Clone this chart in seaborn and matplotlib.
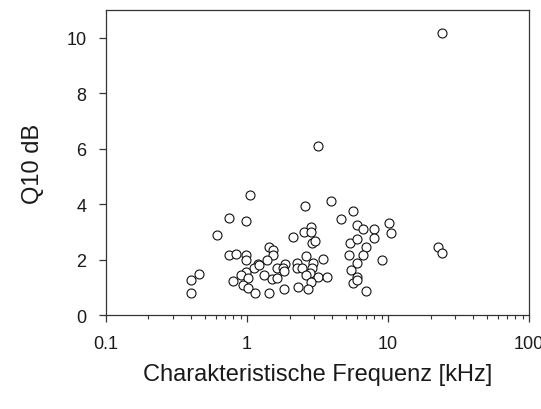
import matplotlib
matplotlib.use("Agg")
import matplotlib.pyplot as plt
import matplotlib.ticker as mticker
import seaborn as sns
import pandas as pd

freq_khz = [1.055, 0.75, 0.98, 0.61, 0.74, 0.84, 0.98, 0.99, 1.20, 1.115,
            0.98, 0.46, 0.40, 0.40, 0.90, 1.02, 0.80, 0.94, 1.01, 1.14,
            2.59, 3.94, 4.62, 5.68, 6.00, 6.68, 7.95, 7.95, 10.1, 10.55,
            2.84, 2.52, 2.83, 2.13, 2.89, 3.05, 5.37, 6.00, 6.98, 1.42,
            1.52, 1.52, 1.39, 6.61, 5.29, 3.44, 2.62, 9.0, 2.25, 2.95,
            1.86, 1.22, 1.62, 1.81, 6.00, 5.44, 2.25, 2.45, 2.88, 2.80,
            2.62, 1.32, 1.50, 1.62, 1.84, 3.20, 3.68, 6.00, 5.68, 6.00,
            2.84, 2.30, 2.69, 1.83, 6.98, 1.42, 3.20, 24.2, 22.5, 24.2]
q10_db = [4.34, 3.50, 3.39, 2.88, 2.17, 2.22, 2.17, 1.97, 1.85, 1.70,
          1.56, 1.48, 1.28, 0.79, 1.45, 1.34, 1.22, 1.10, 0.98, 0.79,
          3.94, 4.11, 3.46, 3.75, 3.26, 3.09, 3.09, 2.79, 3.33, 2.97,
          3.18, 2.99, 2.99, 2.81, 2.60, 2.69, 2.60, 2.76, 2.45, 2.45,
          2.34, 2.17, 2.00, 2.17, 2.17, 2.04, 2.12, 2.00, 1.88, 1.88,
          1.85, 1.81, 1.70, 1.70, 1.88, 1.63, 1.70, 1.70, 1.70, 1.52,
          1.44, 1.44, 1.32, 1.34, 1.58, 1.37, 1.37, 1.37, 1.16, 1.28,
          1.18, 1.00, 0.94, 0.94, 0.87, 0.78, 6.09, 10.16, 2.45, 2.25]

x_ticks = [0.1, 1, 10, 100]
x_tick_labels = ["0.1", "1", "10", "100"]
y_ticks = [0, 2, 4, 6, 8, 10]

sns.set_style("ticks")
plt.rcParams["font.family"] = ["Liberation Sans", "DejaVu Sans"]
plt.rcParams["text.color"] = "#1a1a1a"
plt.rcParams["axes.labelcolor"] = "#1a1a1a"
plt.rcParams["xtick.labelcolor"] = "#1a1a1a"
plt.rcParams["ytick.labelcolor"] = "#1a1a1a"

df = pd.DataFrame({"freq": freq_khz, "q10": q10_db})

fig = plt.figure(figsize=(5.41, 4.10), dpi=100)
ax = fig.add_axes([0.196, 0.229, 0.782, 0.744])

sns.scatterplot(data=df, x="freq", y="q10", ax=ax, s=42,
                facecolor="white", edgecolor="#111111", linewidth=0.8,
                zorder=3, legend=False)

ax.set_xscale("log")
ax.set_xlim(0.1, 100)
ax.set_ylim(0, 11)
ax.xaxis.set_major_locator(mticker.FixedLocator(x_ticks))
ax.xaxis.set_major_formatter(mticker.FixedFormatter(x_tick_labels))
ax.xaxis.set_minor_locator(mticker.LogLocator(base=10, subs=range(2, 10)))
ax.xaxis.set_minor_formatter(mticker.NullFormatter())
ax.set_yticks(y_ticks)

for side in ["top", "right", "left", "bottom"]:
    ax.spines[side].set_visible(True)
    ax.spines[side].set_color("#333333")
    ax.spines[side].set_linewidth(0.9)

ax.tick_params(axis="both", which="major", direction="out", length=5,
               width=0.9, labelsize=13, color="#333333")
ax.tick_params(axis="x", which="major", pad=9)
ax.tick_params(axis="y", which="major", pad=9)
ax.tick_params(axis="x", which="minor", direction="out", length=3, width=0.8,
               color="#333333")

ax.set_xlabel("Charakteristische Frequenz [kHz]", fontsize=17, labelpad=8)
ax.set_ylabel("Q10 dB", fontsize=17, labelpad=16)

fig.savefig("out.png", dpi=100)
